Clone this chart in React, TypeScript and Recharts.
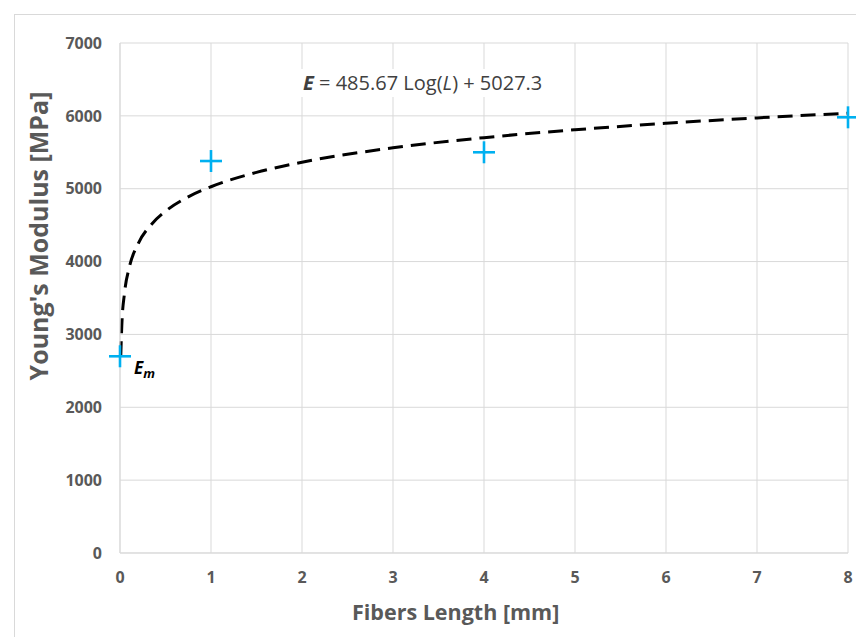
import React from 'react'
import {
    ComposedChart, Line, Scatter, XAxis, YAxis, CartesianGrid,
} from 'recharts'

// measured points
const lengths = [0, 1, 4, 8]
const moduli = [2700, 5380, 5500, 5980]

// log trendline (E = 485.67 Log(L) + 5027.3)
const trendL = [0.0083, 0.02, 0.05, 0.1, 0.2, 0.35, 0.5, 0.75, 1, 1.5, 2, 3, 4, 5, 6, 7, 8]
const trendE = [2700, 3127, 3572, 3909, 4246, 4517, 4691, 4888, 5027, 5224, 5364, 5561, 5701, 5809, 5898, 5972, 6037]

const xTicks = [0, 1, 2, 3, 4, 5, 6, 7, 8]
const yTicks = [0, 1000, 2000, 3000, 4000, 5000, 6000, 7000]

const points = lengths.map((L, i) => ({ L, E: moduli[i] }))
const trend = trendL.map((L, i) => ({ L, E: trendE[i] }))

const FONT = '"Open Sans", sans-serif'
const GREY = '#595959'
const GRID = '#d9d9d9'

const Plus = (props: any) => {
    const { cx, cy } = props
    if (cx == null || cy == null) return null
    return (
        <g stroke="#00b0f0" strokeWidth={2.6}>
            <line x1={cx - 11} y1={cy} x2={cx + 11} y2={cy} />
            <line x1={cx} y1={cy - 11} x2={cx} y2={cy + 11} />
        </g>
    )
}

export default function App() {
    return (
        <div style={{ position: 'absolute', left: 0, top: 0, width: 856, height: 637, background: '#fff', overflow: 'hidden', fontFamily: FONT }}>
            <div style={{ position: 'absolute', left: 14, top: 14, width: 900, height: 700, border: `1px solid ${GRID}` }} />
            <ComposedChart
                width={856}
                height={637}
                margin={{ top: 43, right: 8, bottom: 0, left: 60 }}
                style={{ position: 'absolute', left: 0, top: 0 }}
            >
                <CartesianGrid stroke={GRID} strokeWidth={1} />
                <XAxis
                    type="number"
                    dataKey="L"
                    domain={[0, 8]}
                    ticks={xTicks}
                    height={84}
                    axisLine={{ stroke: GRID }}
                    tickLine={false}
                    tickMargin={13}
                    tick={{ fill: GREY, fontSize: 16, fontWeight: 700, fontFamily: FONT }}
                />
                <YAxis
                    type="number"
                    dataKey="E"
                    domain={[0, 7000]}
                    ticks={yTicks}
                    width={60}
                    axisLine={{ stroke: GRID }}
                    tickLine={false}
                    tickMargin={12}
                    tick={{ fill: GREY, fontSize: 16, fontWeight: 700, fontFamily: FONT }}
                />
                <Line
                    data={trend}
                    dataKey="E"
                    type="monotone"
                    stroke="#000"
                    strokeWidth={3}
                    strokeDasharray="15 8"
                    dot={false}
                    activeDot={false}
                    isAnimationActive={false}
                />
                <Scatter data={points} dataKey="E" shape={Plus} isAnimationActive={false} />
            </ComposedChart>
            <div style={{ position: 'absolute', left: 352, top: 597, fontSize: 21.5, fontWeight: 700, color: GREY, lineHeight: '30px', whiteSpace: 'nowrap' }}>
                Fibers Length [mm]
            </div>
            <div style={{ position: 'absolute', left: 38, top: 236, width: 0, height: 0 }}>
                <div style={{ position: 'absolute', left: 0, top: 0, transform: 'translate(-50%, -50%) rotate(-90deg)', fontSize: 25, fontWeight: 700, color: GREY, lineHeight: '32px', whiteSpace: 'nowrap' }}>
                    Young's Modulus [MPa]
                </div>
            </div>
            <div style={{ position: 'absolute', left: 300, top: 69, padding: '0 3px', background: '#fff', fontSize: 20, color: '#404040', lineHeight: '28px', whiteSpace: 'nowrap' }}>
                <b><i>E</i></b> = 485.67 Log(<i>L</i>) + 5027.3
            </div>
            <div style={{ position: 'absolute', left: 134, top: 357, fontSize: 17, fontWeight: 700, fontStyle: 'italic', color: '#000', lineHeight: '22px', whiteSpace: 'nowrap' }}>
                E<sub style={{ fontSize: 13 }}>m</sub>
            </div>
        </div>
    )
}
